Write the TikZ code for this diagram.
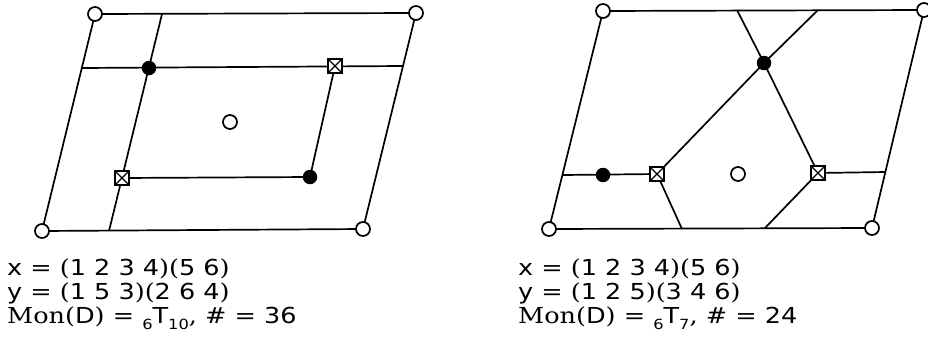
\documentclass[tikz,border=0pt]{standalone}
\usepackage{fontspec}
\usepackage{graphicx}
\setmainfont{DejaVu Serif}
\newfontfamily\lf{DejaVu Sans}
\newcommand\subsc[1]{\raisebox{-0.28em}{\lf\fontsize{14}{14}\selectfont #1}}
\newcommand\wide[1]{\scalebox{1.16}[1]{#1}}
\begin{document}
\begin{tikzpicture}[x=1pt,y=-1pt,
  ln/.style={line width=1.7pt},
  oc/.style={circle,draw,line width=1.7pt,fill=white,minimum size=14pt,inner sep=0pt},
  fd/.style={circle,fill=black,minimum size=14.5pt,inner sep=0pt},
  xsq/.style={rectangle,draw,line width=1.7pt,fill=white,minimum size=13.5pt,inner sep=0pt,
    path picture={\draw[line width=1.1pt] (path picture bounding box.south west) -- (path picture bounding box.north east)
      (path picture bounding box.north west) -- (path picture bounding box.south east);}},
  lab/.style={anchor=base west,inner sep=0pt,font=\fontsize{22}{22}\selectfont}]
\useasboundingbox (0,0) rectangle (928,351);
% ---------- left picture ----------
\coordinate (A1) at (95,14);
\coordinate (A2) at (416,13);
\coordinate (A3) at (363,229);
\coordinate (A4) at (42,231);
\coordinate (At) at (162,14);
\coordinate (Ab) at (109,231);
\coordinate (Al) at (82,68);
\coordinate (Ar) at (403,66);
\coordinate (Ad1) at (149,68);
\coordinate (As1) at (335,66);
\coordinate (As2) at (122,178);
\coordinate (Ad2) at (310,177);
\draw[ln] (A1) -- (A2) -- (A3) -- (A4) -- cycle;
\draw[ln] (At) -- (Ab);
\draw[ln] (Al) -- (Ar);
\draw[ln] (As1) -- (Ad2) -- (As2);
\node[oc] (a1) at (A1) {};
\node[oc] (a2) at (A2) {};
\node[oc] (a3) at (A3) {};
\node[oc] (a4) at (A4) {};
\node[oc] (ac) at (230,122) {};
\node[fd] (ad1) at (Ad1) {};
\node[fd] (ad2) at (Ad2) {};
\node[xsq] (as1) at (As1) {};
\node[xsq] (as2) at (As2) {};
% ---------- right picture ----------
\coordinate (B1) at (603,11);
\coordinate (B2) at (924,10);
\coordinate (B3) at (872,228);
\coordinate (B4) at (549,229);
\coordinate (Bt1) at (737,10);
\coordinate (Bt2) at (818,10);
\coordinate (Bb1) at (682,229);
\coordinate (Bb2) at (765,228);
\coordinate (Bl) at (563,175);
\coordinate (Br) at (886,172);
\coordinate (Bd1) at (764,63);
\coordinate (Bd2) at (603,175);
\coordinate (Bs1) at (657,174);
\coordinate (Bs2) at (818,173);
\draw[ln] (B1) -- (B2) -- (B3) -- (B4) -- cycle;
\draw[ln] (Bt1) -- (Bd1) -- (Bt2);
\draw[ln] (Bs1) -- (Bd1) -- (Bs2);
\draw[ln] (Bl) -- (Bs1) -- (Bb1);
\draw[ln] (Br) -- (Bs2) -- (Bb2);
\node[oc] (b1) at (B1) {};
\node[oc] (b2) at (B2) {};
\node[oc] (b3) at (B3) {};
\node[oc] (b4) at (B4) {};
\node[oc] (bc) at (738,174) {};
\node[fd] (bd1) at (Bd1) {};
\node[fd] (bd2) at (Bd2) {};
\node[xsq] (bs1) at (Bs1) {};
\node[xsq] (bs2) at (Bs2) {};
% ---------- labels ----------
\node[lab] (tl1) at (7,275) {\wide{{\lf x} = ({\lf 1 2 3 4})({\lf 5 6})}};
\node[lab] (tl2) at (7,299) {\wide{{\lf y} = ({\lf 1 5 3})({\lf 2 6 4})}};
\node[lab] (tl3) at (7,323) {\wide{Mon({\lf D}) = \subsc{6}{\lf T}\subsc{10}, \# = {\lf 36}}};
\node[lab] (tr1) at (518,275) {\wide{{\lf x} = ({\lf 1 2 3 4})({\lf 5 6})}};
\node[lab] (tr2) at (518,299) {\wide{{\lf y} = ({\lf 1 2 5})({\lf 3 4 6})}};
\node[lab] (tr3) at (518,323) {\wide{Mon({\lf D}) = \subsc{6}{\lf T}\subsc{7}, \# = {\lf 24}}};
\end{tikzpicture}
\end{document}
